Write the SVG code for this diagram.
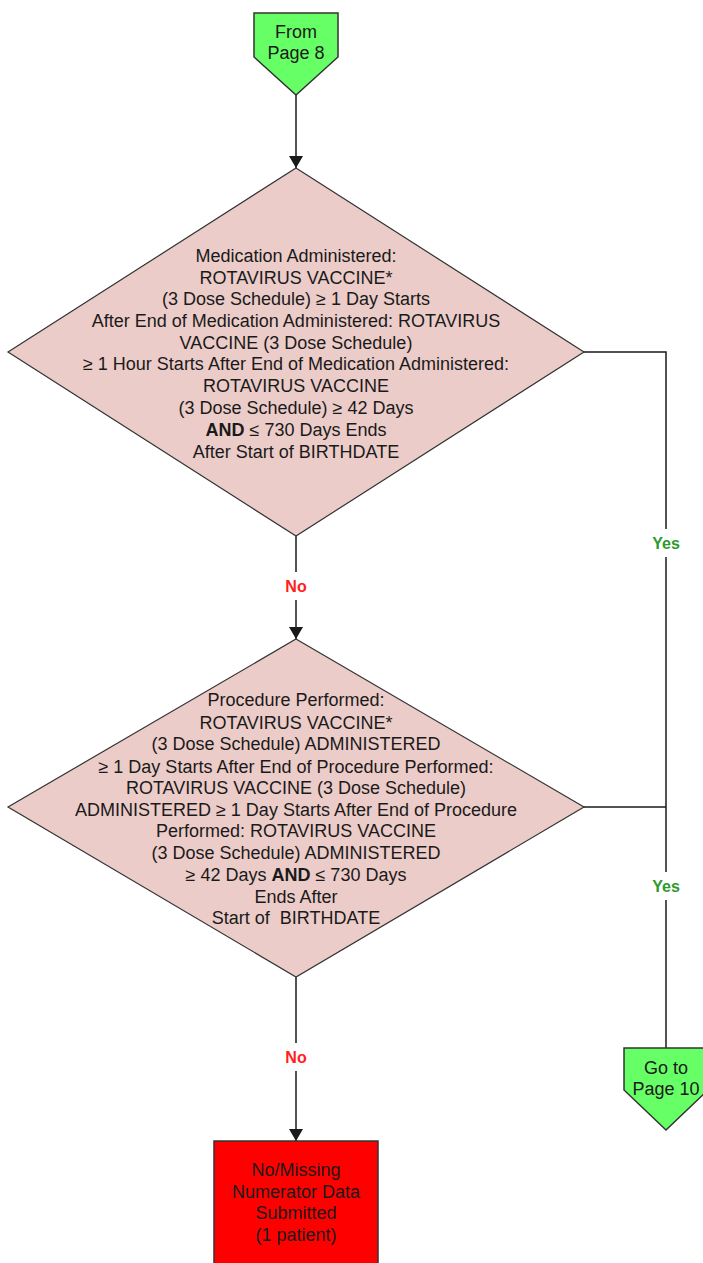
<svg xmlns="http://www.w3.org/2000/svg" width="703" height="1263" viewBox="0 0 703 1263">
<style>
.t{font-family:"Liberation Sans",Arial,sans-serif;font-size:18px;fill:#1a1a1a;text-anchor:middle}
.b{font-weight:bold}
.yes{font-family:"Liberation Sans",Arial,sans-serif;font-size:16px;font-weight:bold;fill:#2e9a2e;text-anchor:middle}
.no{font-family:"Liberation Sans",Arial,sans-serif;font-size:16px;font-weight:bold;fill:#ff2020;text-anchor:middle}
.ln{fill:none;stroke:#1a1a1a;stroke-width:1.5}
.dia{fill:#ecccc8;stroke:#333;stroke-width:1.2}
.grn{fill:#66ff66;stroke:#333;stroke-width:1.5}
.red{fill:#ff0000;stroke:#333;stroke-width:1.5}
</style>
<defs>
<marker id="arr" markerWidth="12" markerHeight="14" refX="12" refY="7" orient="auto" markerUnits="userSpaceOnUse">
<path d="M0,0 L12,7 L0,14 Z" fill="#1a1a1a"/>
</marker>
</defs>
<g id="connectors">
<line class="ln" x1="296" y1="95" x2="296" y2="168" marker-end="url(#arr)"/>
<line class="ln" x1="296" y1="536" x2="296" y2="572"/>
<line class="ln" x1="296" y1="600" x2="296" y2="639" marker-end="url(#arr)"/>
<line class="ln" x1="296" y1="977" x2="296" y2="1043"/>
<line class="ln" x1="296" y1="1071" x2="296" y2="1141" marker-end="url(#arr)"/>
<polyline class="ln" points="583,352 666,352 666,529"/>
<line class="ln" x1="666" y1="557" x2="666" y2="872"/>
<line class="ln" x1="583" y1="807" x2="666" y2="807"/>
<line class="ln" x1="666" y1="900" x2="666" y2="1048"/>
<text class="no" x="296" y="592">No</text>
<text class="no" x="296" y="1063">No</text>
<text class="yes" x="666" y="549">Yes</text>
<text class="yes" x="666" y="892">Yes</text>
</g>
<g id="from-page-8">
<polygon class="grn" points="254,13 338,13 338,57 296,95 254,57"/>
<text class="t" x="296" y="38">From</text>
<text class="t" x="296" y="59">Page 8</text>
</g>
<g id="decision-1">
<polygon class="dia" points="296,168 584,352 296,536 8,352"/>
<text class="t" x="296" y="262">Medication Administered:</text>
<text class="t" x="296" y="284">ROTAVIRUS VACCINE*</text>
<text class="t" x="296" y="305">(3 Dose Schedule) ≥ 1 Day Starts</text>
<text class="t" x="296" y="327">After End of Medication Administered: ROTAVIRUS</text>
<text class="t" x="296" y="349">VACCINE (3 Dose Schedule)</text>
<text class="t" x="296" y="370">≥ 1 Hour Starts After End of Medication Administered:</text>
<text class="t" x="296" y="392">ROTAVIRUS VACCINE</text>
<text class="t" x="296" y="414">(3 Dose Schedule) ≥ 42 Days</text>
<text class="t" x="296" y="436"><tspan class="b">AND</tspan> ≤ 730 Days Ends</text>
<text class="t" x="296" y="458">After Start of BIRTHDATE</text>
</g>
<g id="decision-2">
<polygon class="dia" points="296,639 584,807 296,977 8,807"/>
<text class="t" x="296" y="706">Procedure Performed:</text>
<text class="t" x="296" y="729">ROTAVIRUS VACCINE*</text>
<text class="t" x="296" y="750">(3 Dose Schedule) ADMINISTERED</text>
<text class="t" x="296" y="773">≥ 1 Day Starts After End of Procedure Performed:</text>
<text class="t" x="296" y="794">ROTAVIRUS VACCINE (3 Dose Schedule)</text>
<text class="t" x="296" y="816">ADMINISTERED ≥ 1 Day Starts After End of Procedure</text>
<text class="t" x="296" y="837">Performed: ROTAVIRUS VACCINE</text>
<text class="t" x="296" y="859">(3 Dose Schedule) ADMINISTERED</text>
<text class="t" x="296" y="881">≥ 42 Days <tspan class="b">AND</tspan> ≤ 730 Days</text>
<text class="t" x="296" y="903">Ends After</text>
<text class="t" x="296" y="924">Start of&#160; BIRTHDATE</text>
</g>
<g id="no-missing">
<rect class="red" x="214" y="1141" width="164" height="130"/>
<text class="t" x="296" y="1176">No/Missing</text>
<text class="t" x="296" y="1198">Numerator Data</text>
<text class="t" x="296" y="1219">Submitted</text>
<text class="t" x="296" y="1241">(1 patient)</text>
</g>
<g id="go-to-page-10">
<polygon class="grn" points="624,1048 708,1048 708,1090 666,1130 624,1090"/>
<text class="t" x="666" y="1074">Go to</text>
<text class="t" x="666" y="1095">Page 10</text>
</g>
</svg>
